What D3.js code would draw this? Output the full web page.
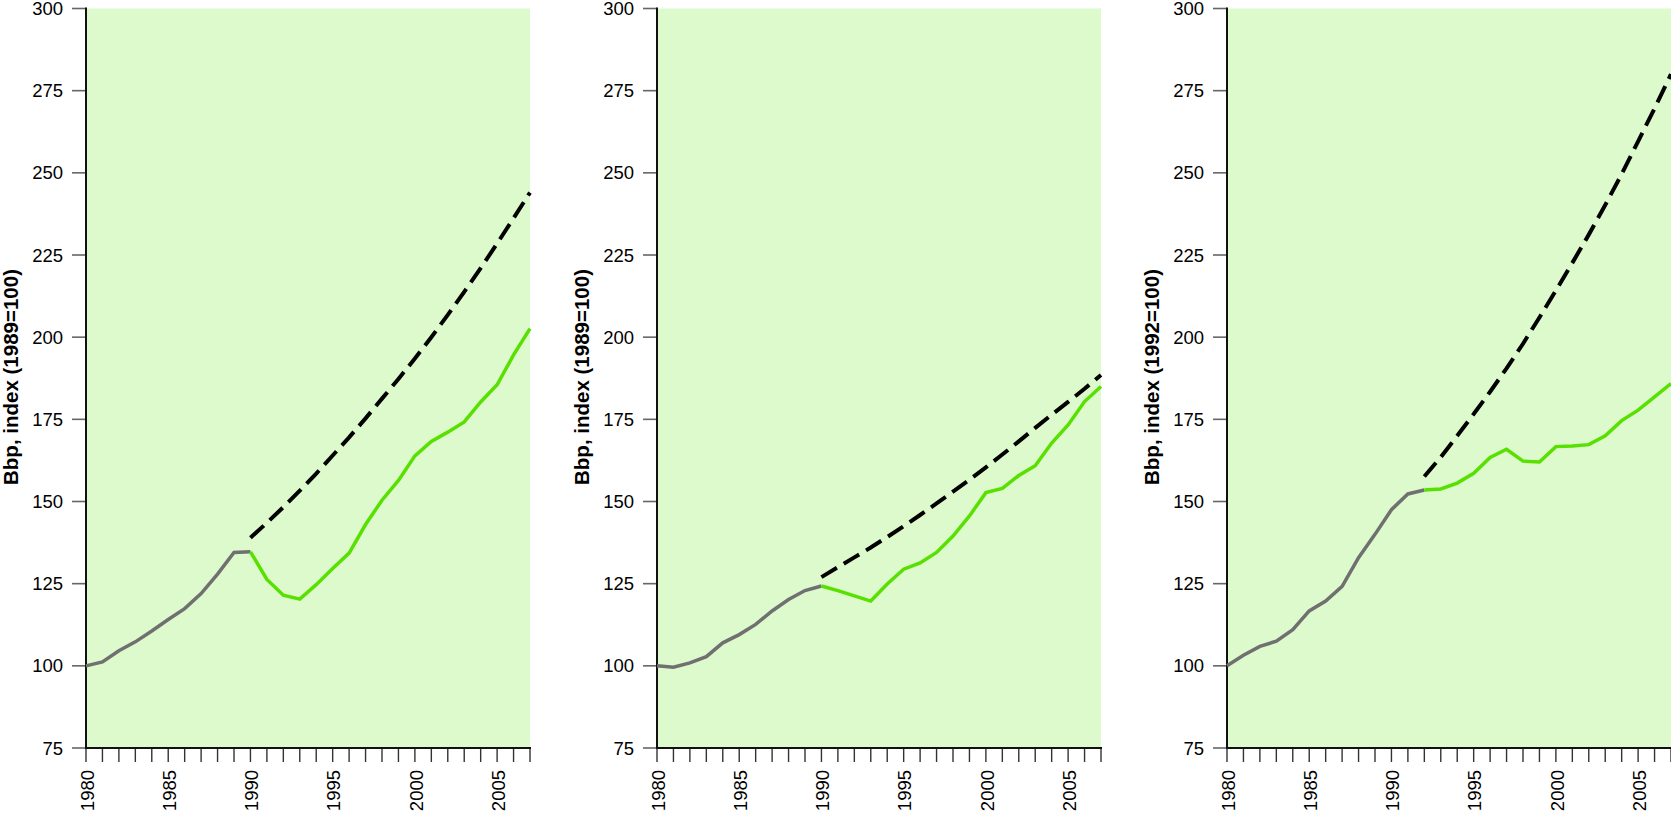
<!DOCTYPE html>
<html>
<head>
<meta charset="utf-8">
<script src="https://cdn.jsdelivr.net/npm/d3@7"></script>
<style>
  body { margin: 0; background: #fff; }
  svg { display: block; }
</style>
</head>
<body>
<div id="chart"></div>
<script>
// --- data ---
const years = d3.range(1980, 2008);
const yTicks = [75, 100, 125, 150, 175, 200, 225, 250, 275, 300];
const xLabelYears = [1980, 1985, 1990, 1995, 2000, 2005];

const titles = ['Bbp, index (1989=100)', 'Bbp, index (1989=100)', 'Bbp, index (1992=100)'];

// panel 1
const hist1Years = [1980, 1981, 1982, 1983, 1984, 1985, 1986, 1987, 1988, 1989, 1990];
const hist1 = [100, 101.2, 104.6, 107.3, 110.6, 114.1, 117.4, 122, 127.9, 134.5, 134.7];
const act1Years = [1990, 1991, 1992, 1993, 1994, 1995, 1996, 1997, 1998, 1999, 2000, 2001, 2002, 2003, 2004, 2005, 2006, 2007];
const act1 = [134.7, 126.3, 121.5, 120.3, 124.7, 129.6, 134.3, 143, 150.4, 156.4, 163.9, 168.3, 171.1, 174.2, 180.3, 185.5, 194.6, 202.6];
const trend1 = [139, 143.5, 148.3, 153.3, 158.5, 164, 169.5, 175.3, 181.3, 187.3, 193.5, 200, 206.8, 213.8, 221, 228.5, 236.2, 244];

// panel 2
const hist2Years = hist1Years;
const hist2 = [100, 99.6, 100.9, 102.8, 107, 109.5, 112.6, 116.7, 120.2, 122.9, 124.3];
const act2Years = act1Years;
const act2 = [124.3, 122.9, 121.3, 119.7, 124.9, 129.4, 131.3, 134.5, 139.5, 145.6, 152.7, 154, 157.9, 160.9, 167.8, 173.3, 180.4, 185];
const trend2 = [127, 130, 133, 136, 139.2, 142.5, 145.9, 149.4, 153, 156.6, 160.4, 164.3, 168.3, 172.4, 176.4, 180.3, 184.3, 188.5];

// panel 3
const hist3Years = [1980, 1981, 1982, 1983, 1984, 1985, 1986, 1987, 1988, 1989, 1990, 1991, 1992];
const hist3 = [100, 103.2, 105.9, 107.5, 111, 116.7, 119.7, 124.2, 132.9, 140, 147.5, 152.3, 153.5];
const act3Years = [1992, 1993, 1994, 1995, 1996, 1997, 1998, 1999, 2000, 2001, 2002, 2003, 2004, 2005, 2006, 2007];
const act3 = [153.5, 153.8, 155.6, 158.6, 163.4, 165.9, 162.3, 162, 166.7, 166.9, 167.3, 170, 174.6, 177.8, 181.8, 185.9];
const trend3Years = act3Years;
const trend3 = [157.6, 163.5, 170, 176.6, 183.4, 190.5, 198, 206, 214.2, 222.6, 231.2, 240.2, 249.6, 259.6, 269.6, 280];

const panels = [
  { title: titles[0], histYears: hist1Years, hist: hist1, actYears: act1Years, act: act1, trendYears: act1Years, trend: trend1 },
  { title: titles[1], histYears: hist2Years, hist: hist2, actYears: act2Years, act: act2, trendYears: act2Years, trend: trend2 },
  { title: titles[2], histYears: hist3Years, hist: hist3, actYears: act3Years, act: act3, trendYears: trend3Years, trend: trend3 }
];

// --- layout ---
const width = 1671;
const height = 816;
const panelLeft = [86, 657, 1227];
const panelWidth = 444;
const plotTop = 8.5;
const plotBottom = 748;

const svg = d3.select('#chart').append('svg')
  .attr('width', width)
  .attr('height', height);

const y = d3.scaleLinear().domain([75, 300]).range([plotBottom, plotTop]);

panels.forEach((p, i) => {
  const x0 = panelLeft[i];
  const x = d3.scaleLinear().domain([1980, 2007]).range([x0, x0 + panelWidth]);
  const g = svg.append('g');

  // background
  g.append('rect')
    .attr('x', x0)
    .attr('y', plotTop)
    .attr('width', panelWidth)
    .attr('height', plotBottom - plotTop)
    .attr('fill', '#ddfacc');

  // y ticks
  g.selectAll('.ytick').data(yTicks).enter().append('line')
    .attr('x1', x0 - 14)
    .attr('x2', x0)
    .attr('y1', d => y(d))
    .attr('y2', d => y(d))
    .attr('stroke', '#666')
    .attr('stroke-width', 1.6);

  g.selectAll('.ylab').data(yTicks).enter().append('text')
    .attr('x', x0 - 23)
    .attr('y', d => y(d))
    .attr('dy', '0.36em')
    .attr('text-anchor', 'end')
    .attr('font-family', 'Liberation Sans, Arial, sans-serif')
    .attr('font-size', '18.5px')
    .attr('fill', '#000')
    .text(d => d);

  // x ticks (every year)
  g.selectAll('.xtick').data(years).enter().append('line')
    .attr('x1', d => x(d))
    .attr('x2', d => x(d))
    .attr('y1', plotBottom)
    .attr('y2', plotBottom + 14)
    .attr('stroke', '#333')
    .attr('stroke-width', 1.4);

  g.selectAll('.xlab').data(xLabelYears).enter().append('text')
    .attr('transform', d => `translate(${x(d) + 1}, ${plotBottom + 22}) rotate(-90)`)
    .attr('dy', '0.36em')
    .attr('text-anchor', 'end')
    .attr('font-family', 'Liberation Sans, Arial, sans-serif')
    .attr('font-size', '18.5px')
    .attr('fill', '#000')
    .text(d => d);

  // axis lines
  g.append('line')
    .attr('x1', x0).attr('x2', x0)
    .attr('y1', plotTop - 1).attr('y2', plotBottom + 1)
    .attr('stroke', '#111').attr('stroke-width', 2);
  g.append('line')
    .attr('x1', x0).attr('x2', x0 + panelWidth + 1)
    .attr('y1', plotBottom).attr('y2', plotBottom)
    .attr('stroke', '#111').attr('stroke-width', 2);

  // axis title
  g.append('text')
    .attr('transform', `translate(${x0 - 86 + 17.5}, ${(266 + 488) / 2}) rotate(-90)`)
    .attr('text-anchor', 'middle')
    .attr('font-family', 'Liberation Sans, Arial, sans-serif')
    .attr('font-weight', 'bold')
    .attr('font-size', '20.5px')
    .attr('fill', '#000')
    .text(p.title);

  const line = d3.line().x(d => x(d[0])).y(d => y(d[1]));

  // trend (dashed)
  g.append('path')
    .datum(d3.zip(p.trendYears, p.trend))
    .attr('d', line)
    .attr('fill', 'none')
    .attr('stroke', '#000')
    .attr('stroke-width', 4)
    .attr('stroke-dasharray', '18,8');

  // history (gray)
  g.append('path')
    .datum(d3.zip(p.histYears, p.hist))
    .attr('d', line)
    .attr('fill', 'none')
    .attr('stroke', '#707070')
    .attr('stroke-width', 3.5);

  // actual after break (green)
  g.append('path')
    .datum(d3.zip(p.actYears, p.act))
    .attr('d', line)
    .attr('fill', 'none')
    .attr('stroke', '#58e000')
    .attr('stroke-width', 3.5);
});
</script>
</body>
</html>
